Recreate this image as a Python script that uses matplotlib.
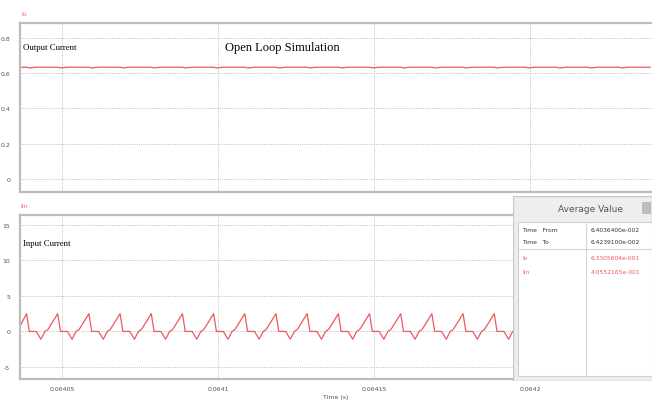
import matplotlib
matplotlib.use("Agg")
import matplotlib.pyplot as plt
import numpy as np
from matplotlib.patches import Rectangle

# time in microseconds (absolute = 64000 + value), one row per switching cycle
t_us = [
    36.0,
    38.5, 39.4, 41.6, 43.1, 44.4, 45.4,
    48.5, 49.4, 51.6, 53.1, 54.4, 55.4,
    58.5, 59.4, 61.6, 63.1, 64.4, 65.4,
    68.5, 69.4, 71.6, 73.1, 74.4, 75.4,
    78.5, 79.4, 81.6, 83.1, 84.4, 85.4,
    88.5, 89.4, 91.6, 93.1, 94.4, 95.4,
    98.5, 99.4, 101.6, 103.1, 104.4, 105.4,
    108.5, 109.4, 111.6, 113.1, 114.4, 115.4,
    118.5, 119.4, 121.6, 123.1, 124.4, 125.4,
    128.5, 129.4, 131.6, 133.1, 134.4, 135.4,
    138.5, 139.4, 141.6, 143.1, 144.4, 145.4,
    148.5, 149.4, 151.6, 153.1, 154.4, 155.4,
    158.5, 159.4, 161.6, 163.1, 164.4, 165.4,
    168.5, 169.4, 171.6, 173.1, 174.4, 175.4,
    178.5, 179.4, 181.6, 183.1, 184.4, 185.4,
    188.5, 189.4, 191.6, 193.1, 194.4, 195.4,
    198.5, 199.4, 201.6, 203.1, 204.4, 205.4,
    208.5, 209.4, 211.6, 213.1, 214.4, 215.4,
    218.5, 219.4, 221.6, 223.1, 224.4, 225.4,
    228.5, 229.4, 231.6, 233.1, 234.4, 235.4,
    238.5,
]
iin = [
    0.4,
    2.5, 0.0, 0.0, -1.1, 0.0, 0.3,
    2.5, 0.0, 0.0, -1.1, 0.0, 0.3,
    2.5, 0.0, 0.0, -1.1, 0.0, 0.3,
    2.5, 0.0, 0.0, -1.1, 0.0, 0.3,
    2.5, 0.0, 0.0, -1.1, 0.0, 0.3,
    2.5, 0.0, 0.0, -1.1, 0.0, 0.3,
    2.5, 0.0, 0.0, -1.1, 0.0, 0.3,
    2.5, 0.0, 0.0, -1.1, 0.0, 0.3,
    2.5, 0.0, 0.0, -1.1, 0.0, 0.3,
    2.5, 0.0, 0.0, -1.1, 0.0, 0.3,
    2.5, 0.0, 0.0, -1.1, 0.0, 0.3,
    2.5, 0.0, 0.0, -1.1, 0.0, 0.3,
    2.5, 0.0, 0.0, -1.1, 0.0, 0.3,
    2.5, 0.0, 0.0, -1.1, 0.0, 0.3,
    2.5, 0.0, 0.0, -1.1, 0.0, 0.3,
    2.5, 0.0, 0.0, -1.1, 0.0, 0.3,
    2.5, 0.0, 0.0, -1.1, 0.0, 0.3,
    2.5, 0.0, 0.0, -1.1, 0.0, 0.3,
    2.5, 0.0, 0.0, -1.1, 0.0, 0.3,
    2.5, 0.0, 0.0, -1.1, 0.0, 0.3,
    2.5,
]
io = [
    0.634,
    0.634, 0.630, 0.634, 0.634, 0.634, 0.634,
    0.634, 0.630, 0.634, 0.634, 0.634, 0.634,
    0.634, 0.630, 0.634, 0.634, 0.634, 0.634,
    0.634, 0.630, 0.634, 0.634, 0.634, 0.634,
    0.634, 0.630, 0.634, 0.634, 0.634, 0.634,
    0.634, 0.630, 0.634, 0.634, 0.634, 0.634,
    0.634, 0.630, 0.634, 0.634, 0.634, 0.634,
    0.634, 0.630, 0.634, 0.634, 0.634, 0.634,
    0.634, 0.630, 0.634, 0.634, 0.634, 0.634,
    0.634, 0.630, 0.634, 0.634, 0.634, 0.634,
    0.634, 0.630, 0.634, 0.634, 0.634, 0.634,
    0.634, 0.630, 0.634, 0.634, 0.634, 0.634,
    0.634, 0.630, 0.634, 0.634, 0.634, 0.634,
    0.634, 0.630, 0.634, 0.634, 0.634, 0.634,
    0.634, 0.630, 0.634, 0.634, 0.634, 0.634,
    0.634, 0.630, 0.634, 0.634, 0.634, 0.634,
    0.634, 0.630, 0.634, 0.634, 0.634, 0.634,
    0.634, 0.630, 0.634, 0.634, 0.634, 0.634,
    0.634, 0.630, 0.634, 0.634, 0.634, 0.634,
    0.634, 0.630, 0.634, 0.634, 0.634, 0.634,
    0.634,
]

t_from = 0.0640364
t_to = 0.0642391
x_ticks = [0.06405, 0.0641, 0.06415, 0.0642]
x_ticklabels = ["0.06405", "0.0641", "0.06415", "0.0642"]
io_ticks = [0, 0.2, 0.4, 0.6, 0.8]
io_ticklabels = ["0", "0.2", "0.4", "0.6", "0.8"]
iin_ticks = [-5, 0, 5, 10, 15]
iin_ticklabels = ["-5", "0", "5", "10", "15"]

avg_rows = [("Time   From", "6.4036400e-002"),
            ("Time   To", "6.4239100e-002"),
            ("Io", "6.3305604e-001"),
            ("Iin", "4.0552165e-001")]

t = (64000 + np.array(t_us)) * 1e-6
red = "#ec5860"
W, H = 652, 402

fig = plt.figure(figsize=(6.52, 4.02), dpi=100)

def px_axes(x0, y0, x1, y1):
    return fig.add_axes([x0 / W, 1 - y1 / H, (x1 - x0) / W, (y1 - y0) / H])

def style(ax):
    for s in ["left", "top", "bottom"]:
        ax.spines[s].set_color("#bcbcbc")
        ax.spines[s].set_linewidth(1.6)
    ax.spines["right"].set_visible(False)
    ax.tick_params(length=0, labelsize=4.5, labelcolor="#555555", pad=7)
    ax.grid(True, color="#bdbdbd", linestyle=(0, (1, 1.3)), linewidth=0.7)
    ax.set_xlim(t_from, t_to)
    ax.set_xticks(x_ticks)

ax1 = px_axes(20, 24, W, 193)
style(ax1)
ax1.plot(t, io, color=red, lw=0.9)
ax1.set_ylim(-0.074, 0.885)
ax1.set_yticks(io_ticks, io_ticklabels)
ax1.set_xticklabels([])
ax1.text(0.004, 0.86, "Output Current", transform=ax1.transAxes,
         family="Liberation Serif", fontsize=6.3, va="center")
ax1.text(0.325, 0.86, "Open Loop Simulation", transform=ax1.transAxes,
         family="Liberation Serif", fontsize=9, va="center")
fig.text(21 / W, 1 - 14 / H, "Io", color="#e06a78", fontsize=4.5, va="center")

ax2 = px_axes(20, 216, W, 380)
style(ax2)
ax2.plot(t, iin, color=red, lw=0.9)
ax2.set_ylim(-6.7, 16.4)
ax2.set_yticks(iin_ticks, iin_ticklabels)
ax2.set_xticklabels(x_ticklabels)
ax2.tick_params(axis="x", pad=5)
ax2.set_xlabel("Time (s)", fontsize=4.5, color="#555555", labelpad=2)
ax2.text(0.004, 0.83, "Input Current", transform=ax2.transAxes,
         family="Liberation Serif", fontsize=6.3, va="center")
fig.text(20 / W, 1 - 207 / H, "Iin", color="#e06a78", fontsize=4.5, va="center")

# Average Value window
tab = px_axes(513, 197, W, 382)
tab.set_xlim(0, W - 513)
tab.set_ylim(185, 0)
tab.axis("off")
tab.add_patch(Rectangle((0, 0), W - 513, 185, facecolor="#eeeeee", edgecolor="#c8c8c8", lw=1))
tab.add_patch(Rectangle((5, 26), W - 513 - 5, 154, facecolor="white", edgecolor="#d0d0d0", lw=0.8))
tab.add_patch(Rectangle((129, 6), 9, 12, facecolor="#bdbdbd", edgecolor="none"))
tab.text(77, 13, "Average Value", fontsize=6.5, color="#555555", ha="center", va="center")
tab.plot([73, 73], [26, 180], color="#d6d6d6", lw=0.8)
tab.plot([5, W - 513], [53, 53], color="#d6d6d6", lw=0.8)
row_y = [33, 46, 61, 75]
for (name, val), y in zip(avg_rows, row_y):
    c = "#333333" if name.startswith("Time") else red
    tab.text(9, y, name, fontsize=4.3, color=c, va="center")
    tab.text(78, y, val, fontsize=4.3, color=c, va="center")

fig.savefig("out.png", dpi=100)
